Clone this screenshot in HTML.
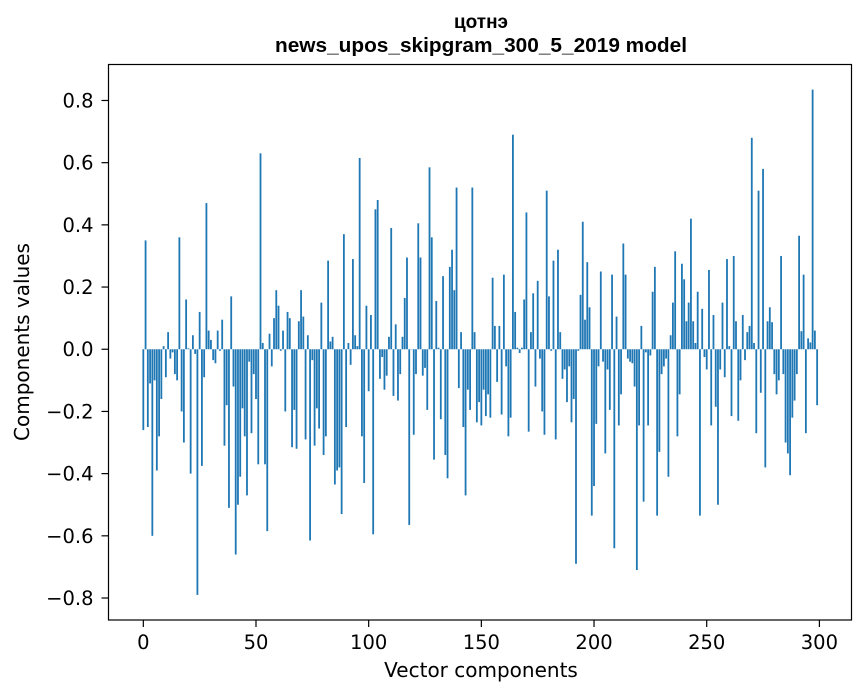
<!DOCTYPE html>
<html><head><meta charset="utf-8">
<style>
body{margin:0;background:#fff;}
svg{display:block;font-family:"DejaVu Sans","Liberation Sans",sans-serif;}
</style></head>
<body>
<svg id="chart" width="867" height="696" viewBox="0 0 867 696">
<text x="481" y="28" text-anchor="middle" font-size="19" font-weight="bold" font-family="Liberation Sans, sans-serif">цотнэ</text>
<text x="481" y="52" text-anchor="middle" font-size="20" font-weight="bold" font-family="Liberation Sans, sans-serif" textLength="412" lengthAdjust="spacingAndGlyphs">news_upos_skipgram_300_5_2019 model</text>
<g id="bars"></g>
<g id="xticks"></g>
<g id="yticks"></g>
<rect x="108.5" y="64.5" width="743" height="555.5" fill="none" stroke="#000" stroke-width="1.2"/>
<text x="481" y="677" text-anchor="middle" font-size="20">Vector components</text>
<text transform="translate(29,342) rotate(-90)" text-anchor="middle" font-size="20">Components values</text>
</svg>
<script>
const values = [
-0.26,0.35,-0.25,-0.11,-0.60,-0.10,-0.39,-0.28,-0.16,0.01,
-0.09,0.055,-0.03,-0.01,-0.08,-0.10,0.36,-0.20,-0.30,0.16,
0.003,-0.40,0.045,-0.015,-0.79,0.12,-0.375,-0.09,0.47,0.06,
0.03,-0.035,-0.045,0.06,-0.005,0.095,-0.31,-0.18,-0.51,0.17,
-0.12,-0.66,-0.50,-0.41,-0.19,-0.28,-0.47,-0.04,-0.27,-0.08,
-0.16,-0.37,0.63,0.02,-0.37,-0.585,0.05,-0.055,0.10,0.19,
0.14,-0.005,0.06,-0.20,0.12,0.10,-0.315,-0.195,-0.32,0.09,
0.19,0.105,-0.29,0.045,-0.615,-0.035,-0.31,-0.19,-0.255,0.15,
-0.34,-0.28,0.285,0.025,0.04,-0.435,-0.39,-0.38,-0.53,0.37,
-0.25,0.02,-0.05,0.29,0.045,0.01,0.615,-0.28,-0.43,0.14,
-0.135,0.11,-0.595,0.45,0.48,-0.095,-0.025,-0.13,-0.085,0.04,
0.39,-0.15,0.08,-0.165,-0.08,0.04,0.165,0.295,-0.565,0.0,
-0.275,-0.08,0.405,0.295,-0.085,-0.06,-0.195,0.585,0.36,-0.355,
0.155,0.005,-0.225,0.235,-0.34,-0.415,0.265,0.32,0.19,0.52,
-0.125,0.055,-0.25,-0.47,-0.13,-0.195,0.52,0.055,-0.235,-0.17,
-0.245,-0.13,-0.215,-0.145,-0.22,0.23,0.075,-0.105,0.075,-0.21,
0.24,-0.055,-0.28,-0.22,0.69,0.12,0.005,-0.012,0.005,0.16,
0.44,-0.265,0.055,0.18,-0.12,0.22,-0.03,-0.20,-0.275,0.51,
0.17,-0.005,0.285,-0.29,0.32,0.055,-0.095,-0.065,-0.17,-0.055,
-0.235,-0.16,-0.69,-0.005,0.175,0.41,0.095,0.28,0.135,-0.535,
-0.44,-0.24,-0.055,0.25,-0.04,-0.335,-0.065,-0.195,0.24,-0.64,
0.105,-0.245,-0.145,0.34,0.24,-0.03,-0.04,-0.045,-0.12,-0.71,
-0.245,0.075,-0.49,-0.01,-0.245,-0.02,0.185,0.265,-0.535,-0.33,
-0.08,-0.055,-0.03,-0.41,0.045,0.15,0.315,-0.28,-0.145,0.275,
0.225,0.09,0.15,0.42,0.09,0.02,0.185,-0.535,0.13,-0.025,
-0.065,0.255,-0.245,0.11,-0.185,-0.50,-0.065,0.15,-0.09,0.29,
0.01,-0.215,0.30,0.09,-0.23,-0.10,0.11,-0.035,0.055,0.075,
0.68,0.02,-0.27,0.51,-0.14,0.58,-0.38,0.09,0.135,0.087,
-0.08,-0.145,-0.10,0.30,-0.08,-0.30,-0.335,-0.405,-0.22,-0.165,
-0.08,0.365,0.058,0.24,-0.27,0.035,0.022,0.835,0.06,-0.18
];
const xTickValues = [0,50,100,150,200,250,300];
const yTickValues = [-0.8,-0.6,-0.4,-0.2,0.0,0.2,0.4,0.6,0.8];
const yTickLabels = ["\u22120.8","\u22120.6","\u22120.4","\u22120.2","0.0","0.2","0.4","0.6","0.8"];

const NS = "http://www.w3.org/2000/svg";
const L=108.5,R=851.5,T=64.5,B=620;
const xMin=-15.45,xMax=314.25,yMin=-0.8707,yMax=0.9157;
const xs = v => L + (v-xMin)/(xMax-xMin)*(R-L);
const ys = v => B - (v-yMin)/(yMax-yMin)*(B-T);

const barsG = document.getElementById('bars');
values.forEach((v,i)=>{
  const r = document.createElementNS(NS,'rect');
  const x0 = xs(i-0.4), x1 = xs(i+0.4);
  const y0 = ys(Math.max(v,0)), y1 = ys(Math.min(v,0));
  r.setAttribute('x',x0);
  r.setAttribute('width',x1-x0);
  r.setAttribute('y',y0);
  r.setAttribute('height',Math.max(y1-y0,0.3));
  r.setAttribute('fill','#1f77b4');
  
  
  barsG.appendChild(r);
});

const xg = document.getElementById('xticks');
xTickValues.forEach(v=>{
  const x = xs(v);
  const l = document.createElementNS(NS,'line');
  l.setAttribute('x1',x);l.setAttribute('x2',x);l.setAttribute('y1',B);l.setAttribute('y2',B+7);
  l.setAttribute('stroke','#000');l.setAttribute('stroke-width','1.2');
  
  
  xg.appendChild(l);
  const t = document.createElementNS(NS,'text');
  t.setAttribute('x',x);t.setAttribute('y',B+29);t.setAttribute('text-anchor','middle');t.setAttribute('font-size','19.5');
  t.textContent = String(v);
  
  
  xg.appendChild(t);
});

const yg = document.getElementById('yticks');
yTickValues.forEach((v,i)=>{
  const y = ys(v);
  const l = document.createElementNS(NS,'line');
  l.setAttribute('x1',L-7);l.setAttribute('x2',L);l.setAttribute('y1',y);l.setAttribute('y2',y);
  l.setAttribute('stroke','#000');l.setAttribute('stroke-width','1.2');
  
  
  yg.appendChild(l);
  const t = document.createElementNS(NS,'text');
  t.setAttribute('x',L-15);t.setAttribute('y',y+7);t.setAttribute('text-anchor','end');t.setAttribute('font-size','19.5');
  t.textContent = yTickLabels[i];
  
  
  yg.appendChild(t);
});
</script>
</body></html>
